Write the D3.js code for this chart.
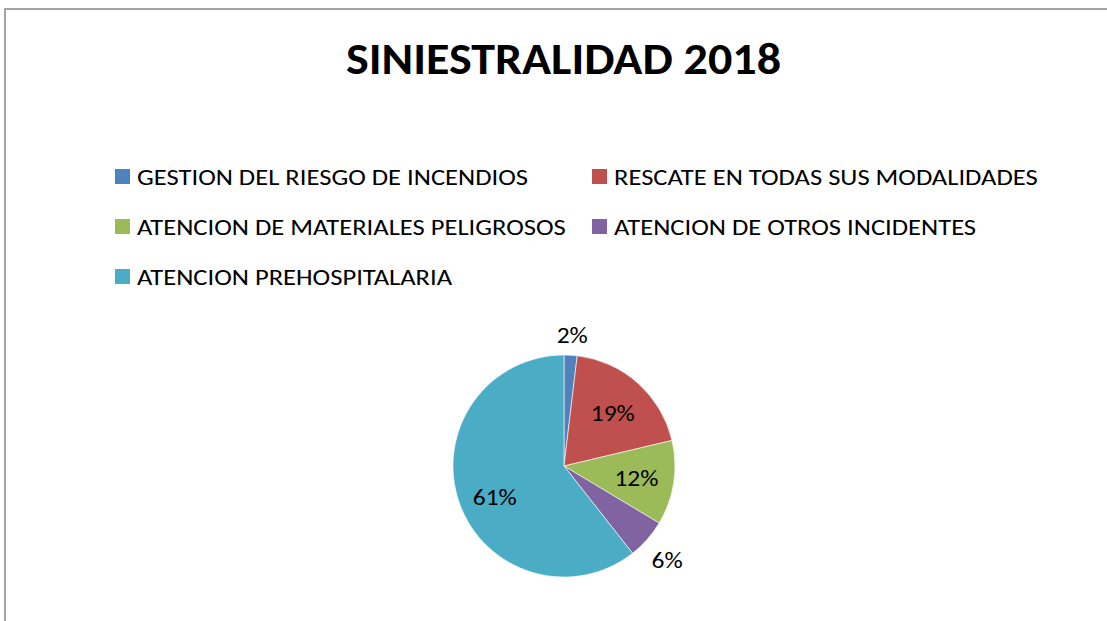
<!DOCTYPE html>
<html><head><meta charset="utf-8">
<script src="https://cdn.jsdelivr.net/npm/d3@7"></script>
<style>html,body{margin:0;padding:0;background:#fff;overflow:hidden}</style>
</head><body>
<svg id="c" width="1107" height="621"></svg>
<script>
const title = "SINIESTRALIDAD 2018";
const categories = [
  "GESTION DEL RIESGO DE INCENDIOS",
  "RESCATE EN TODAS SUS MODALIDADES",
  "ATENCION DE MATERIALES PELIGROSOS",
  "ATENCION DE OTROS INCIDENTES",
  "ATENCION PREHOSPITALARIA"
];
const values = [1.9, 19.4, 12.3, 5.8, 60.6];
const colors = ["#4F81BD", "#C0504D", "#9BBB59", "#8064A2", "#4BACC6"];
const labelInside = [false, true, true, false, true];

const FONT = "Carlito, Calibri, Lato, 'Liberation Sans', sans-serif";
const svg = d3.select("#c");

// chart border
svg.append("rect").attr("x", 5).attr("y", 9).attr("width", 1200).attr("height", 700)
  .attr("fill", "#fff").attr("stroke", "#868686").attr("stroke-width", 1.5);

// title
const tt = svg.append("text").attr("x", 563.5).attr("y", 74).attr("text-anchor", "middle")
  .attr("font-family", FONT).attr("font-weight", "bold").attr("font-size", 44)
  .attr("fill", "#000").text(title);
tt.attr("textLength", 435).attr("lengthAdjust", "spacingAndGlyphs");

function stretchFactor(sample, size, target) {
  const t = svg.append("text").attr("font-family", FONT).attr("font-size", size).text(sample);
  const w = t.node().getComputedTextLength();
  t.remove();
  return target / w;
}
const LSIZE = 23;
const kLeg = stretchFactor(categories[0], LSIZE, 391);

// legend
const colX = [115, 592];
const rowY0 = 176.5, rowStep = 50;
const leg = svg.append("g");
categories.forEach((c, i) => {
  const col = i % 2, row = Math.floor(i / 2);
  const x = colX[col], y = rowY0 + row * rowStep;
  leg.append("rect").attr("x", x).attr("y", y - 7.5).attr("width", 15).attr("height", 15).attr("fill", colors[i]);
  const t = leg.append("text").attr("x", x + 22).attr("y", y + 8.3)
    .attr("font-family", FONT).attr("font-size", LSIZE).attr("fill", "#000").text(c);
  const w = t.node().getComputedTextLength();
  t.attr("textLength", w * kLeg).attr("lengthAdjust", "spacingAndGlyphs");
});

// pie
const cx = 564, cy = 466, R = 111;
const pie = d3.pie().sort(null).value(d => d)(values);
const arc = d3.arc().innerRadius(0).outerRadius(R);
const g = svg.append("g").attr("transform", `translate(${cx},${cy})`);
g.selectAll("path").data(pie).join("path")
  .attr("d", arc).attr("fill", (d, i) => colors[i])
  .attr("stroke", "#fff").attr("stroke-width", 0.6);

const total = d3.sum(values);
const fmt = v => Math.round(v / total * 100) + "%";
const PSIZE = 23;
const kLab = stretchFactor("19%", PSIZE, 44);
const inArc = d3.arc().innerRadius(R * 0.66).outerRadius(R * 0.66);
pie.forEach((d, i) => {
  const t = g.append("text").attr("font-family", FONT).attr("font-size", PSIZE)
    .attr("fill", "#000").attr("text-anchor", "middle").attr("dy", "0.38em").text(fmt(d.data));
  const w = t.node().getComputedTextLength() * kLab;
  t.attr("textLength", w).attr("lengthAdjust", "spacingAndGlyphs");
  const a = (d.startAngle + d.endAngle) / 2;
  if (labelInside[i]) {
    const [x, y] = inArc.centroid(d);
    t.attr("x", x).attr("y", y + 3 - Math.sin(a) * 3);
  } else {
    const h = 27, pad = 11;
    const px = Math.sin(a) * (R + pad), py = -Math.cos(a) * (R + pad);
    t.attr("x", px + Math.sin(a) * w / 2).attr("y", py - Math.cos(a) * h / 2 + 4);
  }
});
</script>
</body></html>
